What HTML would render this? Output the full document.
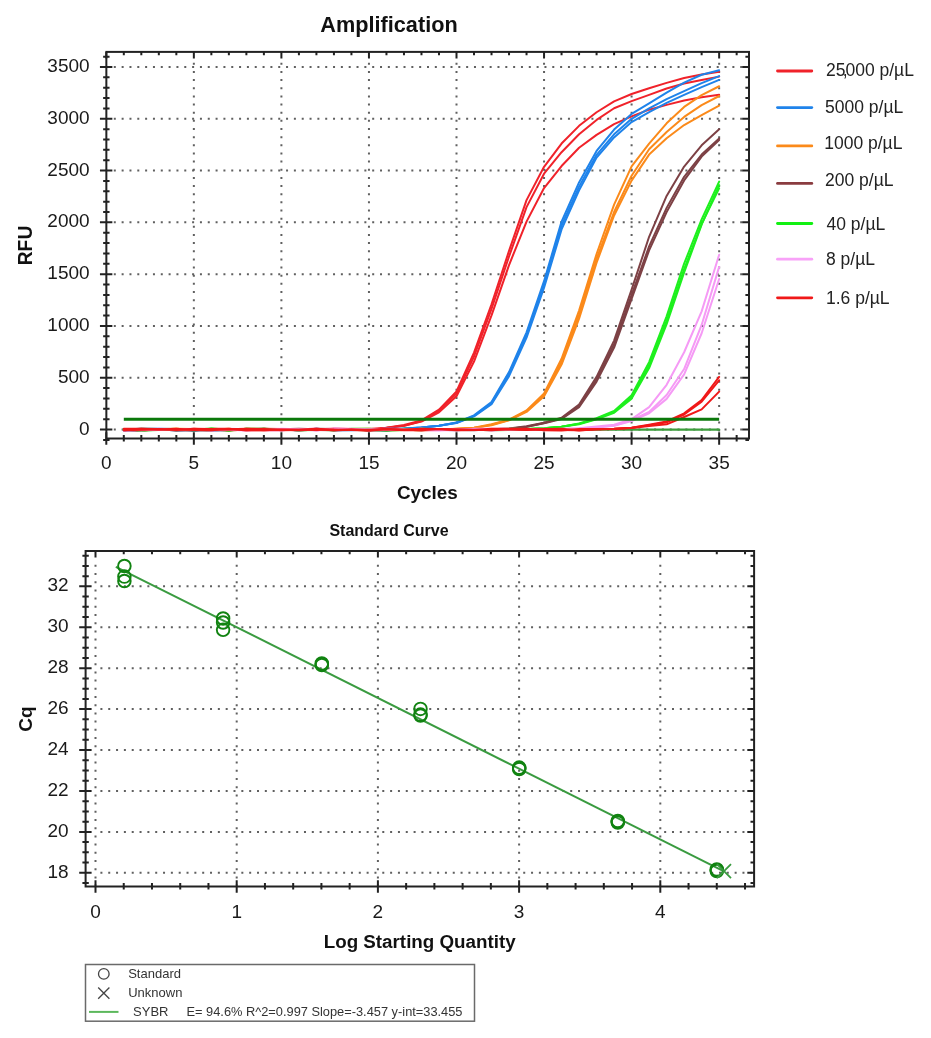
<!DOCTYPE html>
<html><head><meta charset="utf-8"><style>
html,body{margin:0;padding:0;background:#fff;}
body{width:931px;height:1038px;overflow:hidden;position:relative;font-family:"Liberation Sans",sans-serif;}
svg{position:absolute;left:0;top:0;will-change:transform;}
</style></head><body>
<svg width="931" height="1038" viewBox="0 0 931 1038" font-family="Liberation Sans, sans-serif">

<path d="M193.85 62.80V437.50 M281.40 62.80V437.50 M368.95 62.80V437.50 M456.50 62.80V437.50 M544.05 62.80V437.50 M631.60 62.80V437.50 M719.15 62.80V437.50" stroke="#606060" stroke-width="2" stroke-dasharray="2 6.15" fill="none"/>
<path d="M113.80 429.55H747.00 M113.80 377.75H747.00 M113.80 325.96H747.00 M113.80 274.17H747.00 M113.80 222.37H747.00 M113.80 170.57H747.00 M113.80 118.78H747.00 M113.80 66.99H747.00" stroke="#606060" stroke-width="2" stroke-dasharray="2 5.83" fill="none"/>
<g>
<path d="M123.81 429.65 L141.32 429.65 L158.83 429.59 L176.34 429.65 L193.85 429.65 L211.36 429.59 L228.87 429.65 L246.38 429.65 L263.89 429.59 L281.40 429.65 L298.91 429.65 L316.42 429.59 L333.93 429.65 L351.44 429.65 L368.95 429.59 L386.46 429.65 L403.97 429.65 L421.48 429.59 L438.99 429.65 L456.50 429.65 L474.01 429.59 L491.52 429.65 L509.03 429.65 L526.54 429.59 L544.05 429.65 L561.56 429.65 L579.07 429.59 L596.58 429.65 L614.09 429.65 L631.60 429.59 L649.11 429.65 L666.62 429.65 L684.13 429.59 L701.64 429.65 L719.15 429.65" stroke="#3c9e3c" stroke-width="2.3" fill="none" stroke-linejoin="round" stroke-linecap="round"/>
<path d="M123.81 429.04 L141.32 430.44 L158.83 429.30 L176.34 429.09 L193.85 429.55 L211.36 430.06 L228.87 430.11 L246.38 429.06 L263.89 430.17 L281.40 430.32 L298.91 429.20 L316.42 428.70 L333.93 430.47 L351.44 429.53 L368.95 428.97 L386.46 427.63 L403.97 424.97 L421.48 420.37 L438.99 409.71 L456.50 391.47 L474.01 352.71 L491.52 304.26 L509.03 250.90 L526.54 200.15 L544.05 166.84 L561.56 143.56 L579.07 125.83 L596.58 112.24 L614.09 101.37 L631.60 94.04 L649.11 88.19 L666.62 82.84 L684.13 78.02 L701.64 74.45 L719.15 71.85" stroke="#f0222a" stroke-width="2.0" fill="none" stroke-linejoin="round" stroke-linecap="round"/>
<path d="M123.81 430.15 L141.32 430.45 L158.83 429.62 L176.34 429.13 L193.85 429.70 L211.36 429.58 L228.87 430.46 L246.38 429.57 L263.89 428.73 L281.40 428.90 L298.91 429.12 L316.42 430.28 L333.93 428.82 L351.44 428.88 L368.95 430.17 L386.46 427.81 L403.97 425.70 L421.48 421.09 L438.99 410.90 L456.50 393.60 L474.01 356.52 L491.52 308.87 L509.03 256.55 L526.54 207.14 L544.05 173.68 L561.56 152.24 L579.07 134.21 L596.58 119.92 L614.09 108.21 L631.60 101.17 L649.11 94.85 L666.62 88.53 L684.13 83.56 L701.64 79.93 L719.15 76.62" stroke="#f0222a" stroke-width="2.0" fill="none" stroke-linejoin="round" stroke-linecap="round"/>
<path d="M123.81 430.19 L141.32 429.10 L158.83 429.99 L176.34 429.49 L193.85 430.46 L211.36 428.77 L228.87 428.80 L246.38 430.42 L263.89 428.70 L281.40 430.23 L298.91 429.95 L316.42 429.35 L333.93 428.72 L351.44 428.89 L368.95 430.48 L386.46 427.98 L403.97 425.76 L421.48 421.63 L438.99 412.26 L456.50 396.18 L474.01 361.55 L491.52 315.40 L509.03 265.06 L526.54 221.63 L544.05 188.02 L561.56 166.05 L579.07 147.76 L596.58 134.91 L614.09 124.19 L631.60 116.41 L649.11 109.69 L666.62 104.86 L684.13 100.56 L701.64 97.21 L719.15 94.85" stroke="#f0222a" stroke-width="2.0" fill="none" stroke-linejoin="round" stroke-linecap="round"/>
<path d="M123.81 429.39 L141.32 428.81 L158.83 428.82 L176.34 428.96 L193.85 430.42 L211.36 429.19 L228.87 429.78 L246.38 429.52 L263.89 429.26 L281.40 430.12 L298.91 429.97 L316.42 429.14 L333.93 429.02 L351.44 428.90 L368.95 429.04 L386.46 430.41 L403.97 428.92 L421.48 427.45 L438.99 425.84 L456.50 422.45 L474.01 415.33 L491.52 402.01 L509.03 372.11 L526.54 332.30 L544.05 281.16 L561.56 221.61 L579.07 182.43 L596.58 150.91 L614.09 129.59 L631.60 113.89 L649.11 103.43 L666.62 92.67 L684.13 82.60 L701.64 74.78 L719.15 70.20" stroke="#1f83ea" stroke-width="2.0" fill="none" stroke-linejoin="round" stroke-linecap="round"/>
<path d="M123.81 430.39 L141.32 429.94 L158.83 429.14 L176.34 430.44 L193.85 430.10 L211.36 430.39 L228.87 429.92 L246.38 429.24 L263.89 429.91 L281.40 429.39 L298.91 430.35 L316.42 428.86 L333.93 430.23 L351.44 430.15 L368.95 429.56 L386.46 428.87 L403.97 428.56 L421.48 427.39 L438.99 425.66 L456.50 422.71 L474.01 415.88 L491.52 403.13 L509.03 374.13 L526.54 334.97 L544.05 284.52 L561.56 225.48 L579.07 186.63 L596.58 154.83 L614.09 134.32 L631.60 118.78 L649.11 108.32 L666.62 99.20 L684.13 91.12 L701.64 83.15 L719.15 76.10" stroke="#1f83ea" stroke-width="2.0" fill="none" stroke-linejoin="round" stroke-linecap="round"/>
<path d="M123.81 430.09 L141.32 429.58 L158.83 429.70 L176.34 428.88 L193.85 430.16 L211.36 429.85 L228.87 429.98 L246.38 429.19 L263.89 430.07 L281.40 428.97 L298.91 430.46 L316.42 429.44 L333.93 428.97 L351.44 429.09 L368.95 430.13 L386.46 430.47 L403.97 428.55 L421.48 427.48 L438.99 425.83 L456.50 422.96 L474.01 416.40 L491.52 404.18 L509.03 376.14 L526.54 337.60 L544.05 287.76 L561.56 229.38 L579.07 190.28 L596.58 157.58 L614.09 137.42 L631.60 122.09 L649.11 112.20 L666.62 102.93 L684.13 94.90 L701.64 87.09 L719.15 79.93" stroke="#1f83ea" stroke-width="2.0" fill="none" stroke-linejoin="round" stroke-linecap="round"/>
<path d="M123.81 429.28 L141.32 429.77 L158.83 429.25 L176.34 430.18 L193.85 428.69 L211.36 429.84 L228.87 428.63 L246.38 430.04 L263.89 429.39 L281.40 429.72 L298.91 430.23 L316.42 429.47 L333.93 429.52 L351.44 429.05 L368.95 428.74 L386.46 430.32 L403.97 430.12 L421.48 428.63 L438.99 430.04 L456.50 429.09 L474.01 427.82 L491.52 424.30 L509.03 419.64 L526.54 410.51 L544.05 393.57 L561.56 358.77 L579.07 310.59 L596.58 254.00 L614.09 204.61 L631.60 166.38 L649.11 143.58 L666.62 123.28 L684.13 106.95 L701.64 95.05 L719.15 86.25" stroke="#fb8a1a" stroke-width="2.0" fill="none" stroke-linejoin="round" stroke-linecap="round"/>
<path d="M123.81 429.95 L141.32 428.70 L158.83 429.05 L176.34 428.64 L193.85 430.09 L211.36 430.23 L228.87 428.79 L246.38 430.35 L263.89 430.34 L281.40 429.47 L298.91 430.32 L316.42 429.77 L333.93 429.24 L351.44 429.68 L368.95 430.40 L386.46 430.12 L403.97 429.65 L421.48 430.37 L438.99 429.93 L456.50 428.65 L474.01 428.13 L491.52 424.83 L509.03 420.02 L526.54 411.21 L544.05 394.95 L561.56 361.70 L579.07 314.57 L596.58 258.63 L614.09 212.01 L631.60 175.75 L649.11 149.24 L666.62 132.04 L684.13 116.92 L701.64 105.11 L719.15 95.99" stroke="#fb8a1a" stroke-width="2.0" fill="none" stroke-linejoin="round" stroke-linecap="round"/>
<path d="M123.81 428.88 L141.32 429.79 L158.83 429.45 L176.34 428.70 L193.85 429.11 L211.36 428.96 L228.87 430.29 L246.38 428.75 L263.89 429.35 L281.40 429.37 L298.91 430.31 L316.42 429.84 L333.93 429.25 L351.44 429.66 L368.95 429.45 L386.46 429.17 L403.97 429.38 L421.48 430.39 L438.99 429.43 L456.50 428.76 L474.01 427.83 L491.52 425.17 L509.03 420.38 L526.54 411.89 L544.05 396.23 L561.56 364.52 L579.07 318.65 L596.58 262.77 L614.09 215.45 L631.60 180.63 L649.11 154.59 L666.62 138.18 L684.13 125.04 L701.64 115.12 L719.15 105.62" stroke="#fb8a1a" stroke-width="2.0" fill="none" stroke-linejoin="round" stroke-linecap="round"/>
<path d="M123.81 429.72 L141.32 430.38 L158.83 429.01 L176.34 429.95 L193.85 429.64 L211.36 429.92 L228.87 429.50 L246.38 429.32 L263.89 429.03 L281.40 429.20 L298.91 428.65 L316.42 429.36 L333.93 428.96 L351.44 429.16 L368.95 430.43 L386.46 428.80 L403.97 429.64 L421.48 430.26 L438.99 428.92 L456.50 430.11 L474.01 430.16 L491.52 429.27 L509.03 428.56 L526.54 426.20 L544.05 422.67 L561.56 417.72 L579.07 404.54 L596.58 376.84 L614.09 340.60 L631.60 289.67 L649.11 236.78 L666.62 195.96 L684.13 166.57 L701.64 145.35 L719.15 129.35" stroke="#7d4145" stroke-width="2.0" fill="none" stroke-linejoin="round" stroke-linecap="round"/>
<path d="M123.81 430.01 L141.32 430.40 L158.83 429.22 L176.34 430.40 L193.85 430.27 L211.36 429.36 L228.87 430.13 L246.38 429.24 L263.89 428.77 L281.40 429.70 L298.91 429.86 L316.42 429.95 L333.93 430.13 L351.44 429.89 L368.95 429.59 L386.46 430.35 L403.97 429.17 L421.48 429.90 L438.99 429.09 L456.50 429.74 L474.01 429.35 L491.52 429.10 L509.03 428.77 L526.54 426.72 L544.05 422.92 L561.56 418.36 L579.07 405.93 L596.58 379.31 L614.09 344.09 L631.60 294.88 L649.11 246.40 L666.62 207.87 L684.13 176.79 L701.64 154.52 L719.15 138.46" stroke="#7d4145" stroke-width="2.0" fill="none" stroke-linejoin="round" stroke-linecap="round"/>
<path d="M123.81 429.78 L141.32 428.71 L158.83 429.12 L176.34 429.37 L193.85 430.19 L211.36 430.19 L228.87 430.37 L246.38 428.87 L263.89 429.36 L281.40 429.16 L298.91 430.44 L316.42 428.67 L333.93 428.93 L351.44 430.09 L368.95 430.14 L386.46 430.14 L403.97 429.92 L421.48 429.50 L438.99 429.68 L456.50 429.94 L474.01 429.34 L491.52 429.46 L509.03 428.90 L526.54 426.89 L544.05 423.16 L561.56 418.94 L579.07 407.24 L596.58 381.63 L614.09 347.54 L631.60 298.87 L649.11 250.33 L666.62 212.00 L684.13 180.46 L701.64 156.64 L719.15 140.02" stroke="#7d4145" stroke-width="2.0" fill="none" stroke-linejoin="round" stroke-linecap="round"/>
<path d="M123.81 429.56 L141.32 430.06 L158.83 430.01 L176.34 429.74 L193.85 429.78 L211.36 428.62 L228.87 429.72 L246.38 429.04 L263.89 429.06 L281.40 429.90 L298.91 429.84 L316.42 429.83 L333.93 430.21 L351.44 428.67 L368.95 428.79 L386.46 429.44 L403.97 429.90 L421.48 428.83 L438.99 429.22 L456.50 429.75 L474.01 429.54 L491.52 429.51 L509.03 428.75 L526.54 429.06 L544.05 428.13 L561.56 426.80 L579.07 423.52 L596.58 418.22 L614.09 411.04 L631.60 395.32 L649.11 362.10 L666.62 316.37 L684.13 263.67 L701.64 219.45 L719.15 181.66" stroke="#1ef01e" stroke-width="2.0" fill="none" stroke-linejoin="round" stroke-linecap="round"/>
<path d="M123.81 429.22 L141.32 430.40 L158.83 429.84 L176.34 429.28 L193.85 429.95 L211.36 428.71 L228.87 430.19 L246.38 429.76 L263.89 429.38 L281.40 429.57 L298.91 430.16 L316.42 430.08 L333.93 429.28 L351.44 430.02 L368.95 429.72 L386.46 430.39 L403.97 429.88 L421.48 429.94 L438.99 429.65 L456.50 430.37 L474.01 429.08 L491.52 429.12 L509.03 429.43 L526.54 429.00 L544.05 428.26 L561.56 426.67 L579.07 423.85 L596.58 418.78 L614.09 411.94 L631.60 397.23 L649.11 365.32 L666.62 320.78 L684.13 268.99 L701.64 223.92 L719.15 188.29" stroke="#1ef01e" stroke-width="2.0" fill="none" stroke-linejoin="round" stroke-linecap="round"/>
<path d="M123.81 428.95 L141.32 430.43 L158.83 430.09 L176.34 429.33 L193.85 430.30 L211.36 429.33 L228.87 430.38 L246.38 428.69 L263.89 428.65 L281.40 429.51 L298.91 429.30 L316.42 429.06 L333.93 429.06 L351.44 429.70 L368.95 429.05 L386.46 429.69 L403.97 428.76 L421.48 429.21 L438.99 429.80 L456.50 428.88 L474.01 429.77 L491.52 430.31 L509.03 429.88 L526.54 429.19 L544.05 428.22 L561.56 426.77 L579.07 424.17 L596.58 419.23 L614.09 412.69 L631.60 398.62 L649.11 368.06 L666.62 324.17 L684.13 272.46 L701.64 224.67 L719.15 185.08" stroke="#1ef01e" stroke-width="2.0" fill="none" stroke-linejoin="round" stroke-linecap="round"/>
<path d="M123.81 429.92 L141.32 430.13 L158.83 429.88 L176.34 429.24 L193.85 429.43 L211.36 429.74 L228.87 429.77 L246.38 430.46 L263.89 430.16 L281.40 430.25 L298.91 429.19 L316.42 428.85 L333.93 429.85 L351.44 428.63 L368.95 430.24 L386.46 429.55 L403.97 429.95 L421.48 430.07 L438.99 429.55 L456.50 429.30 L474.01 429.30 L491.52 430.33 L509.03 429.40 L526.54 428.92 L544.05 429.94 L561.56 428.64 L579.07 428.22 L596.58 426.58 L614.09 424.79 L631.60 419.15 L649.11 407.07 L666.62 384.78 L684.13 352.26 L701.64 311.34 L719.15 254.69" stroke="#f59af5" stroke-width="2.0" fill="none" stroke-linejoin="round" stroke-linecap="round"/>
<path d="M123.81 428.94 L141.32 430.14 L158.83 428.85 L176.34 429.55 L193.85 428.68 L211.36 430.48 L228.87 428.76 L246.38 429.31 L263.89 429.91 L281.40 429.85 L298.91 430.22 L316.42 429.57 L333.93 428.84 L351.44 429.64 L368.95 429.60 L386.46 428.84 L403.97 429.24 L421.48 430.33 L438.99 430.43 L456.50 429.14 L474.01 429.16 L491.52 430.41 L509.03 429.61 L526.54 429.80 L544.05 429.36 L561.56 429.13 L579.07 428.60 L596.58 427.25 L614.09 425.54 L631.60 420.23 L649.11 411.94 L666.62 395.05 L684.13 369.05 L701.64 324.92 L719.15 266.91" stroke="#f59af5" stroke-width="2.0" fill="none" stroke-linejoin="round" stroke-linecap="round"/>
<path d="M123.81 430.42 L141.32 429.57 L158.83 428.90 L176.34 429.72 L193.85 429.30 L211.36 429.94 L228.87 429.47 L246.38 430.06 L263.89 430.03 L281.40 428.70 L298.91 429.28 L316.42 430.45 L333.93 428.62 L351.44 429.11 L368.95 429.14 L386.46 429.72 L403.97 430.10 L421.48 428.69 L438.99 430.06 L456.50 430.39 L474.01 428.83 L491.52 428.82 L509.03 428.69 L526.54 429.34 L544.05 428.64 L561.56 429.73 L579.07 428.73 L596.58 427.50 L614.09 425.84 L631.60 421.11 L649.11 413.28 L666.62 398.86 L684.13 374.42 L701.64 333.24 L719.15 279.03" stroke="#f59af5" stroke-width="2.0" fill="none" stroke-linejoin="round" stroke-linecap="round"/>
<path d="M123.81 428.75 L141.32 428.86 L158.83 429.39 L176.34 428.79 L193.85 429.89 L211.36 430.21 L228.87 428.88 L246.38 429.67 L263.89 429.56 L281.40 429.64 L298.91 429.81 L316.42 429.99 L333.93 429.38 L351.44 429.90 L368.95 430.40 L386.46 429.16 L403.97 430.14 L421.48 430.13 L438.99 429.11 L456.50 430.25 L474.01 429.91 L491.52 428.74 L509.03 428.64 L526.54 428.66 L544.05 430.24 L561.56 430.47 L579.07 429.01 L596.58 429.02 L614.09 428.78 L631.60 427.68 L649.11 424.72 L666.62 421.50 L684.13 413.41 L701.64 400.02 L719.15 376.93" stroke="#f01818" stroke-width="2.0" fill="none" stroke-linejoin="round" stroke-linecap="round"/>
<path d="M123.81 430.14 L141.32 429.76 L158.83 428.93 L176.34 430.11 L193.85 428.77 L211.36 429.01 L228.87 429.13 L246.38 428.63 L263.89 428.91 L281.40 430.05 L298.91 429.88 L316.42 429.15 L333.93 430.29 L351.44 429.36 L368.95 430.23 L386.46 428.81 L403.97 430.02 L421.48 428.70 L438.99 429.01 L456.50 429.67 L474.01 430.01 L491.52 429.79 L509.03 429.42 L526.54 429.95 L544.05 428.88 L561.56 428.75 L579.07 430.41 L596.58 429.24 L614.09 428.82 L631.60 427.71 L649.11 425.20 L666.62 422.30 L684.13 414.53 L701.64 401.58 L719.15 380.34" stroke="#f01818" stroke-width="2.0" fill="none" stroke-linejoin="round" stroke-linecap="round"/>
<path d="M123.81 430.28 L141.32 429.21 L158.83 429.48 L176.34 429.79 L193.85 429.71 L211.36 429.39 L228.87 429.15 L246.38 430.16 L263.89 430.36 L281.40 429.55 L298.91 429.68 L316.42 428.72 L333.93 429.71 L351.44 430.02 L368.95 429.73 L386.46 429.30 L403.97 429.39 L421.48 429.02 L438.99 429.33 L456.50 429.31 L474.01 429.79 L491.52 430.17 L509.03 429.09 L526.54 429.75 L544.05 429.25 L561.56 429.89 L579.07 430.35 L596.58 429.52 L614.09 428.99 L631.60 428.05 L649.11 426.05 L666.62 424.33 L684.13 416.97 L701.64 409.35 L719.15 391.64" stroke="#f01818" stroke-width="2.0" fill="none" stroke-linejoin="round" stroke-linecap="round"/>
</g>
<path d="M123.81 419.19H719.15" stroke="#0b780b" stroke-width="3" fill="none"/>
<path d="M103.15 439.91H109.55 M745.40 439.91H749.00 M99.95 429.55H112.35 M742.20 429.55H749.00 M103.15 419.19H109.55 M745.40 419.19H749.00 M103.15 408.83H109.55 M745.40 408.83H749.00 M103.15 398.47H109.55 M745.40 398.47H749.00 M103.15 388.11H109.55 M745.40 388.11H749.00 M99.95 377.75H112.35 M742.20 377.75H749.00 M103.15 367.40H109.55 M745.40 367.40H749.00 M103.15 357.04H109.55 M745.40 357.04H749.00 M103.15 346.68H109.55 M745.40 346.68H749.00 M103.15 336.32H109.55 M745.40 336.32H749.00 M99.95 325.96H112.35 M742.20 325.96H749.00 M103.15 315.60H109.55 M745.40 315.60H749.00 M103.15 305.24H109.55 M745.40 305.24H749.00 M103.15 294.88H109.55 M745.40 294.88H749.00 M103.15 284.52H109.55 M745.40 284.52H749.00 M99.95 274.17H112.35 M742.20 274.17H749.00 M103.15 263.81H109.55 M745.40 263.81H749.00 M103.15 253.45H109.55 M745.40 253.45H749.00 M103.15 243.09H109.55 M745.40 243.09H749.00 M103.15 232.73H109.55 M745.40 232.73H749.00 M99.95 222.37H112.35 M742.20 222.37H749.00 M103.15 212.01H109.55 M745.40 212.01H749.00 M103.15 201.65H109.55 M745.40 201.65H749.00 M103.15 191.29H109.55 M745.40 191.29H749.00 M103.15 180.93H109.55 M745.40 180.93H749.00 M99.95 170.57H112.35 M742.20 170.57H749.00 M103.15 160.22H109.55 M745.40 160.22H749.00 M103.15 149.86H109.55 M745.40 149.86H749.00 M103.15 139.50H109.55 M745.40 139.50H749.00 M103.15 129.14H109.55 M745.40 129.14H749.00 M99.95 118.78H112.35 M742.20 118.78H749.00 M103.15 108.42H109.55 M745.40 108.42H749.00 M103.15 98.06H109.55 M745.40 98.06H749.00 M103.15 87.70H109.55 M745.40 87.70H749.00 M103.15 77.34H109.55 M745.40 77.34H749.00 M99.95 66.99H112.35 M742.20 66.99H749.00 M103.15 56.63H109.55 M745.40 56.63H749.00 M106.30 432.20V444.80 M106.30 51.90V58.50 M123.81 435.10V441.60 M123.81 51.90V55.20 M141.32 435.10V441.60 M141.32 51.90V55.20 M158.83 435.10V441.60 M158.83 51.90V55.20 M176.34 435.10V441.60 M176.34 51.90V55.20 M193.85 432.20V444.80 M193.85 51.90V58.50 M211.36 435.10V441.60 M211.36 51.90V55.20 M228.87 435.10V441.60 M228.87 51.90V55.20 M246.38 435.10V441.60 M246.38 51.90V55.20 M263.89 435.10V441.60 M263.89 51.90V55.20 M281.40 432.20V444.80 M281.40 51.90V58.50 M298.91 435.10V441.60 M298.91 51.90V55.20 M316.42 435.10V441.60 M316.42 51.90V55.20 M333.93 435.10V441.60 M333.93 51.90V55.20 M351.44 435.10V441.60 M351.44 51.90V55.20 M368.95 432.20V444.80 M368.95 51.90V58.50 M386.46 435.10V441.60 M386.46 51.90V55.20 M403.97 435.10V441.60 M403.97 51.90V55.20 M421.48 435.10V441.60 M421.48 51.90V55.20 M438.99 435.10V441.60 M438.99 51.90V55.20 M456.50 432.20V444.80 M456.50 51.90V58.50 M474.01 435.10V441.60 M474.01 51.90V55.20 M491.52 435.10V441.60 M491.52 51.90V55.20 M509.03 435.10V441.60 M509.03 51.90V55.20 M526.54 435.10V441.60 M526.54 51.90V55.20 M544.05 432.20V444.80 M544.05 51.90V58.50 M561.56 435.10V441.60 M561.56 51.90V55.20 M579.07 435.10V441.60 M579.07 51.90V55.20 M596.58 435.10V441.60 M596.58 51.90V55.20 M614.09 435.10V441.60 M614.09 51.90V55.20 M631.60 432.20V444.80 M631.60 51.90V58.50 M649.11 435.10V441.60 M649.11 51.90V55.20 M666.62 435.10V441.60 M666.62 51.90V55.20 M684.13 435.10V441.60 M684.13 51.90V55.20 M701.64 435.10V441.60 M701.64 51.90V55.20 M719.15 432.20V444.80 M719.15 51.90V58.50 M736.66 435.10V441.60 M736.66 51.90V55.20" stroke="#222" stroke-width="2" fill="none"/>
<rect x="106.35" y="51.90" width="642.65" height="386.60" stroke="#222" stroke-width="2" fill="none"/>
<g font-size="19" fill="#1a1a1a" text-anchor="end">
<text x="89.6" y="434.65">0</text>
<text x="89.6" y="382.86">500</text>
<text x="89.6" y="331.06">1000</text>
<text x="89.6" y="279.27">1500</text>
<text x="89.6" y="227.47">2000</text>
<text x="89.6" y="175.67">2500</text>
<text x="89.6" y="123.88">3000</text>
<text x="89.6" y="72.09">3500</text>
</g>
<g font-size="19" fill="#1a1a1a" text-anchor="middle">
<text x="106.30" y="469">0</text>
<text x="193.85" y="469">5</text>
<text x="281.40" y="469">10</text>
<text x="368.95" y="469">15</text>
<text x="456.50" y="469">20</text>
<text x="544.05" y="469">25</text>
<text x="631.60" y="469">30</text>
<text x="719.15" y="469">35</text>
</g>
<text x="389" y="32" font-size="21.7" font-weight="bold" text-anchor="middle" fill="#111">Amplification</text>
<text x="427.4" y="499.1" font-size="18.9" font-weight="bold" text-anchor="middle" fill="#111">Cycles</text>
<text transform="translate(32.0 245.5) rotate(-90)" font-size="19.3" font-weight="bold" text-anchor="middle" fill="#111">RFU</text>
<path d="M777.5 71.00H811.8" stroke="#f0222a" stroke-width="2.8" stroke-linecap="round"/>
<text x="826" y="75.60" font-size="17.5" fill="#222">25<tspan dx="-2.6">,</tspan><tspan dx="-2.27">000 p/µL</tspan></text>
<path d="M777.5 107.60H811.8" stroke="#1f83ea" stroke-width="2.8" stroke-linecap="round"/>
<text x="825.0" y="113.20" font-size="17.5" fill="#222">5000 p/µL</text>
<path d="M777.5 145.90H811.8" stroke="#fb8a1a" stroke-width="2.8" stroke-linecap="round"/>
<text x="824.2" y="149.30" font-size="17.5" fill="#222">1000 p/µL</text>
<path d="M777.5 183.40H811.8" stroke="#8a3c40" stroke-width="2.8" stroke-linecap="round"/>
<text x="825.0" y="186.40" font-size="17.5" fill="#222">200 p/µL</text>
<path d="M777.5 223.50H811.8" stroke="#12f012" stroke-width="2.8" stroke-linecap="round"/>
<text x="826.5" y="229.50" font-size="17.5" fill="#222">40 p/µL</text>
<path d="M777.5 259.20H811.8" stroke="#f8a2f8" stroke-width="2.8" stroke-linecap="round"/>
<text x="826.0" y="265.40" font-size="17.5" fill="#222">8 p/µL</text>
<path d="M777.5 297.80H811.8" stroke="#f01818" stroke-width="2.8" stroke-linecap="round"/>
<text x="826.0" y="303.60" font-size="17.5" fill="#222">1.6 p/µL</text>
<path d="M95.50 564.80V885.50 M236.70 564.80V885.50 M377.90 564.80V885.50 M519.10 564.80V885.50 M660.30 564.80V885.50" stroke="#606060" stroke-width="2" stroke-dasharray="2 6.2" fill="none"/>
<path d="M100.40 872.80H752.10 M100.40 831.88H752.10 M100.40 790.96H752.10 M100.40 750.04H752.10 M100.40 709.12H752.10 M100.40 668.20H752.10 M100.40 627.28H752.10 M100.40 586.36H752.10" stroke="#606060" stroke-width="2" stroke-dasharray="2 5.83" fill="none"/>
<path d="M82.40 883.03H88.80 M750.50 883.03H754.10 M79.20 872.80H91.60 M747.30 872.80H754.10 M82.40 862.57H88.80 M750.50 862.57H754.10 M82.40 852.34H88.80 M750.50 852.34H754.10 M82.40 842.11H88.80 M750.50 842.11H754.10 M79.20 831.88H91.60 M747.30 831.88H754.10 M82.40 821.65H88.80 M750.50 821.65H754.10 M82.40 811.42H88.80 M750.50 811.42H754.10 M82.40 801.19H88.80 M750.50 801.19H754.10 M79.20 790.96H91.60 M747.30 790.96H754.10 M82.40 780.73H88.80 M750.50 780.73H754.10 M82.40 770.50H88.80 M750.50 770.50H754.10 M82.40 760.27H88.80 M750.50 760.27H754.10 M79.20 750.04H91.60 M747.30 750.04H754.10 M82.40 739.81H88.80 M750.50 739.81H754.10 M82.40 729.58H88.80 M750.50 729.58H754.10 M82.40 719.35H88.80 M750.50 719.35H754.10 M79.20 709.12H91.60 M747.30 709.12H754.10 M82.40 698.89H88.80 M750.50 698.89H754.10 M82.40 688.66H88.80 M750.50 688.66H754.10 M82.40 678.43H88.80 M750.50 678.43H754.10 M79.20 668.20H91.60 M747.30 668.20H754.10 M82.40 657.97H88.80 M750.50 657.97H754.10 M82.40 647.74H88.80 M750.50 647.74H754.10 M82.40 637.51H88.80 M750.50 637.51H754.10 M79.20 627.28H91.60 M747.30 627.28H754.10 M82.40 617.05H88.80 M750.50 617.05H754.10 M82.40 606.82H88.80 M750.50 606.82H754.10 M82.40 596.59H88.80 M750.50 596.59H754.10 M79.20 586.36H91.60 M747.30 586.36H754.10 M82.40 576.13H88.80 M750.50 576.13H754.10 M82.40 565.90H88.80 M750.50 565.90H754.10 M82.40 555.67H88.80 M750.50 555.67H754.10 M95.50 880.20V892.80 M95.50 551.00V557.60 M123.74 883.10V889.60 M123.74 551.00V554.30 M151.98 883.10V889.60 M151.98 551.00V554.30 M180.22 883.10V889.60 M180.22 551.00V554.30 M208.46 883.10V889.60 M208.46 551.00V554.30 M236.70 880.20V892.80 M236.70 551.00V557.60 M264.94 883.10V889.60 M264.94 551.00V554.30 M293.18 883.10V889.60 M293.18 551.00V554.30 M321.42 883.10V889.60 M321.42 551.00V554.30 M349.66 883.10V889.60 M349.66 551.00V554.30 M377.90 880.20V892.80 M377.90 551.00V557.60 M406.14 883.10V889.60 M406.14 551.00V554.30 M434.38 883.10V889.60 M434.38 551.00V554.30 M462.62 883.10V889.60 M462.62 551.00V554.30 M490.86 883.10V889.60 M490.86 551.00V554.30 M519.10 880.20V892.80 M519.10 551.00V557.60 M547.34 883.10V889.60 M547.34 551.00V554.30 M575.58 883.10V889.60 M575.58 551.00V554.30 M603.82 883.10V889.60 M603.82 551.00V554.30 M632.06 883.10V889.60 M632.06 551.00V554.30 M660.30 880.20V892.80 M660.30 551.00V557.60 M688.54 883.10V889.60 M688.54 551.00V554.30 M716.78 883.10V889.60 M716.78 551.00V554.30 M745.02 883.10V889.60 M745.02 551.00V554.30" stroke="#222" stroke-width="2" fill="none"/>
<rect x="85.60" y="551.00" width="668.50" height="335.50" stroke="#222" stroke-width="2" fill="none"/>
<path d="M115.83 566.78L724.00 871.42" stroke="#3a9b40" stroke-width="2" fill="none"/>
<circle cx="124.40" cy="566.00" r="6.3" stroke="#118311" stroke-width="1.9" fill="none"/>
<circle cx="124.40" cy="576.60" r="6.3" stroke="#118311" stroke-width="1.9" fill="none"/>
<circle cx="124.40" cy="581.00" r="6.3" stroke="#118311" stroke-width="1.9" fill="none"/>
<circle cx="223.10" cy="618.50" r="6.3" stroke="#118311" stroke-width="1.9" fill="none"/>
<circle cx="223.10" cy="622.50" r="6.3" stroke="#118311" stroke-width="1.9" fill="none"/>
<circle cx="223.10" cy="629.80" r="6.3" stroke="#118311" stroke-width="1.9" fill="none"/>
<circle cx="321.80" cy="663.50" r="6.3" stroke="#118311" stroke-width="1.9" fill="none"/>
<circle cx="321.80" cy="664.20" r="6.3" stroke="#118311" stroke-width="1.9" fill="none"/>
<circle cx="321.80" cy="665.00" r="6.3" stroke="#118311" stroke-width="1.9" fill="none"/>
<circle cx="420.50" cy="708.90" r="6.3" stroke="#118311" stroke-width="1.9" fill="none"/>
<circle cx="420.50" cy="714.60" r="6.3" stroke="#118311" stroke-width="1.9" fill="none"/>
<circle cx="420.50" cy="715.60" r="6.3" stroke="#118311" stroke-width="1.9" fill="none"/>
<circle cx="519.20" cy="767.60" r="6.3" stroke="#118311" stroke-width="1.9" fill="none"/>
<circle cx="519.20" cy="768.30" r="6.3" stroke="#118311" stroke-width="1.9" fill="none"/>
<circle cx="519.20" cy="769.00" r="6.3" stroke="#118311" stroke-width="1.9" fill="none"/>
<circle cx="617.80" cy="820.90" r="6.3" stroke="#118311" stroke-width="1.9" fill="none"/>
<circle cx="617.80" cy="821.70" r="6.3" stroke="#118311" stroke-width="1.9" fill="none"/>
<circle cx="617.80" cy="822.50" r="6.3" stroke="#118311" stroke-width="1.9" fill="none"/>
<circle cx="716.80" cy="869.50" r="6.3" stroke="#118311" stroke-width="1.9" fill="none"/>
<circle cx="716.80" cy="870.20" r="6.3" stroke="#118311" stroke-width="1.9" fill="none"/>
<circle cx="716.80" cy="871.00" r="6.3" stroke="#118311" stroke-width="1.9" fill="none"/>
<path d="M717.0 864.2L731.0 878.2M717.0 878.2L731.0 864.2" stroke="#3a9b40" stroke-width="1.8" fill="none"/>
<g font-size="19" fill="#1a1a1a" text-anchor="end">
<text x="68.6" y="877.90">18</text>
<text x="68.6" y="836.98">20</text>
<text x="68.6" y="796.06">22</text>
<text x="68.6" y="755.14">24</text>
<text x="68.6" y="714.22">26</text>
<text x="68.6" y="673.30">28</text>
<text x="68.6" y="632.38">30</text>
<text x="68.6" y="591.46">32</text>
</g>
<g font-size="19" fill="#1a1a1a" text-anchor="middle">
<text x="95.50" y="917.6">0</text>
<text x="236.70" y="917.6">1</text>
<text x="377.90" y="917.6">2</text>
<text x="519.10" y="917.6">3</text>
<text x="660.30" y="917.6">4</text>
</g>
<text x="389" y="536" font-size="16" font-weight="bold" text-anchor="middle" fill="#111">Standard Curve</text>
<text x="419.7" y="947.8" font-size="18.8" font-weight="bold" text-anchor="middle" fill="#111">Log Starting Quantity</text>
<text transform="translate(32.0 719) rotate(-90)" font-size="19" font-weight="bold" text-anchor="middle" fill="#111">Cq</text>
<rect x="85.5" y="964.5" width="389" height="56.7" fill="none" stroke="#6a6a6a" stroke-width="1.5"/>
<circle cx="103.8" cy="973.9" r="5.3" fill="none" stroke="#444" stroke-width="1.3"/>
<path d="M98.2 987.5L109.4 998.7M98.2 998.7L109.4 987.5" stroke="#444" stroke-width="1.3"/>
<path d="M89 1011.9H118.5" stroke="#5cb85c" stroke-width="2"/>
<g font-size="13" fill="#333">
<text x="128.2" y="977.6">Standard</text>
<text x="128.2" y="997.0">Unknown</text>
<text x="133.1" y="1015.5">SYBR</text>
<text x="186.5" y="1015.5" font-size="12.82">E= 94.6% R^2=0.997 Slope=-3.457 y-int=33.455</text>
</g>
</svg></body></html>
